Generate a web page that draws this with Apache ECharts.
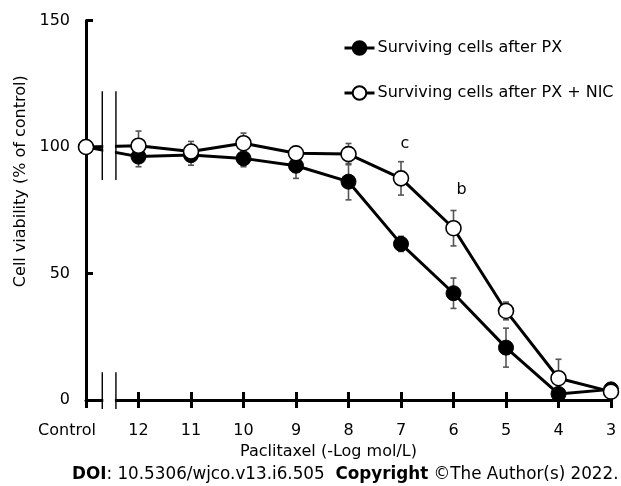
<!DOCTYPE html>
<html>
<head>
<meta charset="utf-8">
<script src="https://cdn.jsdelivr.net/npm/echarts@6/dist/echarts.min.js"></script>
<style>html,body{margin:0;padding:0;background:#fff;}#c{width:621px;height:486px;}</style>
</head>
<body>
<div id="c"></div>
<script>
// x positions: 13 = Control, then -Log mol/L concentrations
const xVals = [13, 12, 11, 10, 9, 8, 7, 6, 5, 4, 3];
const pxVals = [100, 96.2, 96.8, 95.5, 92.6, 86.3, 61.7, 42.2, 20.7, 2.4, 4.2];
const pxErr = [0, 4, 4, 3.3, 5, 7.2, 3, 6, 7.7, 1.5, 1.5];
const nicVals = [100, 100.5, 98.2, 101.5, 97.5, 97.2, 87.6, 67.9, 35.2, 8.6, 3.3];
const nicErr = [0, 5.8, 4, 4, 2, 4.2, 6.6, 7, 3.5, 7.5, 1];
const nicSig = ['', '', '', '', '', '', 'c', 'b', '', '', ''];
const yTicks = [0, 50, 100, 150];
const seriesNames = ['Surviving cells after PX', 'Surviving cells after PX + NIC'];

const FONT = 'DejaVu Sans';
const chart = echarts.init(document.getElementById('c'));

const pxData = xVals.map((x, i) => [x, pxVals[i]]);
const nicData = xVals.map((x, i) => {
  const item = { value: [x, nicVals[i]] };
  if (nicSig[i]) {
    item.label = { show: true, formatter: nicSig[i], position: 'top',
      distance: nicSig[i] === 'c' ? 18 : 22, offset: [nicSig[i] === 'c' ? 4 : 8, 0],
      fontFamily: FONT, fontSize: 16, color: '#000' };
  }
  return item;
});
const errData = [];
xVals.forEach((x, i) => { errData.push([x, pxVals[i], pxErr[i]]); errData.push([x, nicVals[i], nicErr[i]]); });

function errRender(params, api) {
  const x = api.value(0), y = api.value(1), e = api.value(2);
  if (!e) return null;
  const t = api.coord([x, y + e]), b = api.coord([x, y - e]);
  const st = { stroke: '#555', lineWidth: 1.6 };
  return { type: 'group', children: [
    { type: 'line', shape: { x1: t[0], y1: t[1], x2: b[0], y2: b[1] }, style: st },
    { type: 'line', shape: { x1: t[0] - 3, y1: t[1], x2: t[0] + 3, y2: t[1] }, style: st },
    { type: 'line', shape: { x1: b[0] - 3, y1: b[1], x2: b[0] + 3, y2: b[1] }, style: st }
  ]};
}

const BREAK_A = 12.69, BREAK_B = 12.43;
function breakRender(params, api) {
  const xa = api.coord([BREAK_A, 0])[0], xb = api.coord([BREAK_B, 0])[0];
  const yTopA = api.coord([0, 122])[1], yTopB = api.coord([0, 87])[1];
  const yBotA = api.coord([0, 11])[1], yBotB = api.coord([0, -3.6])[1];
  const rTop = api.coord([0, 126])[1], rBot = api.coord([0, -4])[1];
  const st = { stroke: '#000', lineWidth: 1.4 };
  return { type: 'group', children: [
    { type: 'rect', shape: { x: xa + 1, y: rTop, width: xb - xa - 2, height: rBot - rTop }, style: { fill: '#fff' } },
    { type: 'line', shape: { x1: xa, y1: yTopA, x2: xa, y2: yTopB }, style: st },
    { type: 'line', shape: { x1: xb, y1: yTopA, x2: xb, y2: yTopB }, style: st },
    { type: 'line', shape: { x1: xa, y1: yBotA, x2: xa, y2: yBotB }, style: st },
    { type: 'line', shape: { x1: xb, y1: yBotA, x2: xb, y2: yBotB }, style: st }
  ]};
}

const xCommon = { type: 'value', min: 3, max: 13, interval: 1, inverse: true, position: 'bottom', offset: 0, splitLine: { show: false } };

chart.setOption({
  animation: false,
  textStyle: { fontFamily: FONT },
  grid: { left: 86, right: 10, top: 20.5, bottom: 86, containLabel: false },
  legend: {
    orient: 'vertical', left: 338, top: 35, itemGap: 29, itemWidth: 30, itemHeight: 17,
    data: seriesNames,
    lineStyle: { width: 3 },
    textStyle: { fontFamily: FONT, fontSize: 16, color: '#000', padding: [0, 0, 0, -2] }
  },
  xAxis: [
    Object.assign({}, xCommon, {
      name: 'Paclitaxel (-Log mol/L)', nameLocation: 'middle', nameGap: 42,
      nameTextStyle: { fontFamily: FONT, fontSize: 16, color: '#000', padding: [0, 40, 0, 0] },
      axisLine: { lineStyle: { color: '#000', width: 3 } },
      axisTick: { inside: false, length: 8, lineStyle: { color: '#000', width: 3 } },
      axisLabel: { margin: 23, fontFamily: FONT, fontSize: 16, color: '#000',
        formatter: v => v === 13 ? '{c|Control}' : String(v),
        rich: { c: { fontFamily: FONT, fontSize: 16, color: '#000', padding: [0, 38, 0, 0] } } }
    }),
    Object.assign({}, xCommon, {
      axisLine: { show: false },
      axisTick: { inside: true, length: 8, lineStyle: { color: '#000', width: 3 } },
      axisLabel: { show: false }
    })
  ],
  yAxis: {
    type: 'value', min: yTicks[0], max: yTicks[yTicks.length - 1], interval: 50,
    name: 'Cell viability (% of control)', nameLocation: 'middle', nameGap: 55, nameRotate: 90,
    nameTextStyle: { fontFamily: FONT, fontSize: 16, color: '#000', padding: [0, 0, 0, 58] },
    splitLine: { show: false },
    axisLine: { show: true, lineStyle: { color: '#000', width: 3 } },
    axisTick: { show: true, inside: true, length: 7, lineStyle: { color: '#000', width: 3 } },
    axisLabel: { margin: 16, fontFamily: FONT, fontSize: 16, color: '#000' }
  },
  series: [
    { type: 'custom', name: 'err', renderItem: errRender, data: errData, z: 1, silent: true,
      encode: { x: 0, y: 1 }, clip: false },
    { type: 'line', name: seriesNames[0], data: pxData, symbol: 'circle', symbolSize: 15,
      lineStyle: { color: '#000', width: 3 }, itemStyle: { color: '#000', borderColor: '#000', borderWidth: 1 }, z: 2 },
    { type: 'line', name: seriesNames[1], data: nicData, symbol: 'circle', symbolSize: 15,
      lineStyle: { color: '#000', width: 3 }, itemStyle: { color: '#fff', borderColor: '#000', borderWidth: 1.6 }, z: 3 },
    { type: 'custom', name: 'break', renderItem: breakRender, data: [[12.56, 50]], z: 10, silent: true,
      encode: { x: 0, y: 1 }, clip: false }
  ],
  graphic: [{
    type: 'text', left: 72, top: 466,
    style: {
      text: '{b|DOI}: 10.5306/wjco.v13.i6.505  {b|Copyright} ©The Author(s) 2022.',
      font: '16.8px "DejaVu Sans"', fill: '#000',
      rich: { b: { fontWeight: 'bold', fontFamily: FONT, fontSize: 16.8, fill: '#000' } }
    }
  }]
});
</script>
</body>
</html>
